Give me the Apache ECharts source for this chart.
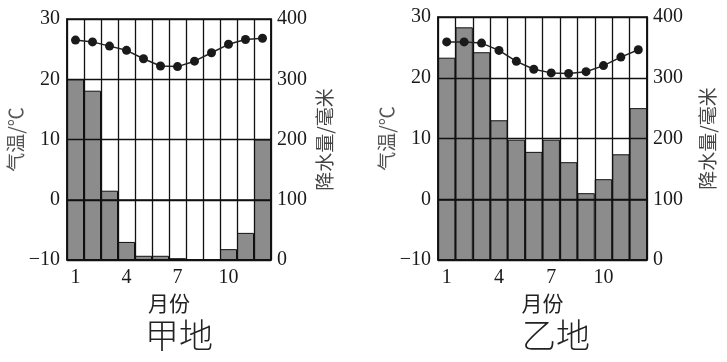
<!DOCTYPE html>
<html><head><meta charset="utf-8">
<script src="https://cdn.jsdelivr.net/npm/echarts@6/dist/echarts.min.js"></script>
<style>html,body{margin:0;padding:0;background:#fff}#c{width:727px;height:362px}</style>
</head><body><div id="c"></div>
<script>
const months = ['1','2','3','4','5','6','7','8','9','10','11','12'];
const tempJia = [26.5,26.2,25.5,24.8,23.4,22.2,22.1,23.0,24.4,25.8,26.6,26.8];
const precJia = [300,281,115,30,7,7,3,1,1,18,45,200];
const tempYi = [25.9,25.9,25.7,24.5,22.7,21.4,20.8,20.7,21.0,22.0,23.4,24.6];
const precYi = [333,383,342,230,198,178,198,161,110,133,174,250];
const tempTicks = {min:-10,max:30,interval:10};
const precTicks = {min:0,max:400,interval:100};
const titles = ['甲地','乙地'];
const xName = '月份';
const tempName = '气温/℃';
const precName = '降水量/毫米';

const serif = '"Liberation Serif", "DejaVu Serif", serif';
const labelStyle = {color:'#1a1a1a', fontFamily:serif, fontSize:20};
const nameStyle = {color:'#555', fontFamily:'"Noto Sans CJK SC"', fontSize:19};

const grids = [
  {left:67, right:456, top:19, bottom:102},
  {left:438, right:80, top:17, bottom:102}
];
const xAxes = grids.map((g,i)=>({
  type:'category', gridIndex:i, data:months, boundaryGap:true,
  name:xName, nameLocation:'middle', nameGap:28,
  nameTextStyle:{color:'#222', fontFamily:'"Noto Sans CJK SC"', fontSize:21},
  axisLine:{lineStyle:{color:'#111', width:1.5}},
  axisTick:{show:false},
  axisLabel:Object.assign({interval:2, margin:8}, labelStyle),
  splitLine:{show:true, interval:0, lineStyle:{color:'#111', width:1.3}},
  z:5
}));
const yAxes = [];
grids.forEach((g,i)=>{
  yAxes.push({type:'value', gridIndex:i, position:'left', min:tempTicks.min, max:tempTicks.max, interval:tempTicks.interval,
    name:tempName, nameLocation:'middle', nameRotate:90, nameGap:36, nameTextStyle:nameStyle,
    axisLine:{show:true, lineStyle:{color:'#111', width:1.5}}, axisTick:{show:false},
    axisLabel:Object.assign({margin:7, formatter:v=>String(v).replace('-','\u2212')}, labelStyle),
    splitLine:{show:true, lineStyle:{color:'#111', width:1.3}}, z:5});
  yAxes.push({type:'value', gridIndex:i, position:'right', min:precTicks.min, max:precTicks.max, interval:precTicks.interval,
    name:precName, nameLocation:'middle', nameRotate:90, nameGap: i===0?44:51, nameTextStyle:Object.assign({}, nameStyle, {color:'#444'}),
    axisLine:{show:true, lineStyle:{color:'#111', width:1.5}}, axisTick:{show:false},
    axisLabel:Object.assign({margin:6}, labelStyle),
    splitLine:{show:false}, z:5});
});
const series = [];
[[tempJia,precJia],[tempYi,precYi]].forEach((d,i)=>{
  series.push({type:'bar', xAxisIndex:i, yAxisIndex:i*2+1, data:d[1], barWidth:'100%', barCategoryGap:'0%',
    itemStyle:{color:'#8c8c8c', borderColor:'#111', borderWidth:1}, z:2});
  series.push({type:'line', xAxisIndex:i, yAxisIndex:i*2, data:d[0], symbol:'circle', symbolSize:9,
    lineStyle:{color:'#222', width:1.5}, itemStyle:{color:'#1a1a1a'}, z:10});
});
const chart = echarts.init(document.getElementById('c'), null, {renderer:'canvas'});
chart.setOption({
  backgroundColor:'#fff',
  animation:false,
  grid: grids.map(g=>Object.assign({show:true, borderColor:'#111', borderWidth:1.5, backgroundColor:'#fff'}, g)),
  xAxis:xAxes, yAxis:yAxes, series:series,
  graphic:[
    {type:'text', left:145, top:318, style:{text:titles[0], fontSize:34, fontWeight:300, fontFamily:'"Noto Sans CJK SC"', fill:'#222'}},
    {type:'text', left:522, top:318, style:{text:titles[1], fontSize:34, fontWeight:300, fontFamily:'"Noto Sans CJK SC"', fill:'#222'}}
  ]
});
</script></body></html>
